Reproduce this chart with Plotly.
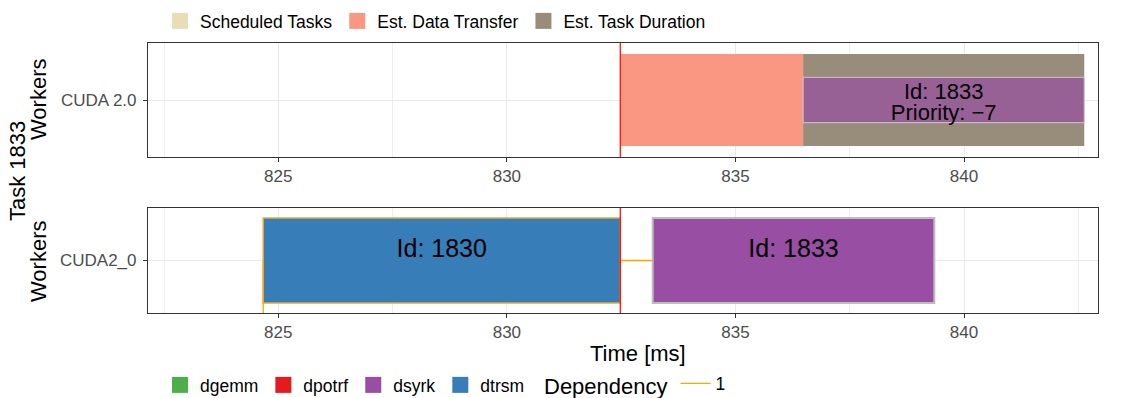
import plotly.graph_objects as go
from plotly.subplots import make_subplots

# ---------------- data ----------------
time_now = 832.48

# executed tasks (bottom panel)
task_ids = [1830, 1833]
task_types = ["dtrsm", "dsyrk"]
task_start = [824.67, 833.19]
task_end = [832.48, 839.35]
worker_bottom = "CUDA2_0"

# estimation for task 1833 (top panel)
worker_top = "CUDA 2.0"
est_task_id = 1833
est_task_type = "dsyrk"
est_priority = -7
est_transfer_start = 832.48
est_transfer_end = 836.48
est_task_end = 842.63

# dependencies (bottom panel): x pairs, y pairs (0 = shown worker, -1 = worker below)
dep_x = [[824.67, 824.67], [832.48, 833.19]]
dep_y = [[-1.0, 0.0], [0.0, 0.0]]
dep_label = "1"

type_names = ["dgemm", "dpotrf", "dsyrk", "dtrsm"]
type_colors = ["#4daf4a", "#e41a1c", "#984ea3", "#377eb8"]
est_names = ["Scheduled Tasks", "Est. Data Transfer", "Est. Task Duration"]
est_colors = ["#e8ddb4", "#f99783", "#988c7a"]

x_ticks = [825, 830, 835, 840]
x_range = [822.15, 842.93]

# ---------------- figure ----------------
FONT = "Liberation Sans, Arial, sans-serif"
color_of = dict(zip(type_names, type_colors))
dep_color = "#ffa500"

fig = make_subplots(rows=2, cols=1, row_heights=[114, 105], vertical_spacing=51 / 270)

# top panel
fig.add_trace(go.Bar(orientation="h", y=[0], base=[est_transfer_start],
                     x=[est_transfer_end - est_transfer_start], width=0.968,
                     marker=dict(color=est_colors[1], line=dict(width=0)),
                     showlegend=False, hoverinfo="skip"), row=1, col=1)
fig.add_trace(go.Bar(orientation="h", y=[0], base=[est_transfer_end],
                     x=[est_task_end - est_transfer_end], width=0.968,
                     marker=dict(color=est_colors[2], line=dict(width=0)),
                     showlegend=False, hoverinfo="skip"), row=1, col=1)
fig.add_trace(go.Bar(orientation="h", y=[0], base=[est_transfer_end],
                     x=[est_task_end - est_transfer_end], width=0.477,
                     marker=dict(color="rgba(152,78,163,0.7)",
                                 line=dict(width=1, color="rgba(215,205,220,0.9)")),
                     showlegend=False, hoverinfo="skip"), row=1, col=1)
mid_top = (est_transfer_end + est_task_end) / 2
fig.add_trace(go.Scatter(x=[mid_top, mid_top], y=[0.07, -0.15], mode="text",
                         text=[f"Id: {est_task_id}", f"Priority: {est_priority}".replace("-", "\u2212")],
                         textfont=dict(size=22, color="black", family=FONT),
                         showlegend=False, hoverinfo="skip", cliponaxis=False), row=1, col=1)

# bottom panel
outline_colors = ["#eaa835", "#bdbdbd"]
outline_widths = [1.5, 2]
for i in range(len(task_ids)):
    fig.add_trace(go.Bar(orientation="h", y=[0], base=[task_start[i]],
                         x=[task_end[i] - task_start[i]], width=0.971,
                         marker=dict(color=color_of[task_types[i]],
                                     line=dict(width=outline_widths[i], color=outline_colors[i])),
                         showlegend=False, hoverinfo="skip"), row=2, col=1)
mids = [(s + e) / 2 for s, e in zip(task_start, task_end)]
fig.add_trace(go.Scatter(x=mids, y=[0.11] * len(mids), mode="text",
                         text=[f"Id: {t}" for t in task_ids],
                         textfont=dict(size=25, color="black", family=FONT),
                         showlegend=False, hoverinfo="skip", cliponaxis=False), row=2, col=1)
for k in range(len(dep_x)):
    fig.add_trace(go.Scatter(x=dep_x[k], y=dep_y[k], mode="lines",
                             line=dict(color=dep_color, width=1.3),
                             name=dep_label, legend="legend3", legendgroup="dep",
                             showlegend=(k == 1), hoverinfo="skip"), row=2, col=1)

# legend entries
for n, c in zip(est_names, est_colors):
    fig.add_trace(go.Scatter(x=[None], y=[None], mode="markers", name=n,
                             marker=dict(symbol="square", size=18, color=c, line=dict(width=0)),
                             legend="legend"), row=1, col=1)
for n, c in zip(type_names, type_colors):
    fig.add_trace(go.Scatter(x=[None], y=[None], mode="markers", name=n,
                             marker=dict(symbol="square", size=18, color=c, line=dict(width=0)),
                             legend="legend2"), row=2, col=1)

# "now" line
for r in (1, 2):
    fig.add_vline(x=time_now, line=dict(color="#ff0000", width=1.2), row=r, col=1)

xaxis_style = dict(range=x_range, tickmode="array", tickvals=x_ticks,
                   ticktext=[str(v) for v in x_ticks],
                   showline=True, mirror=True, linecolor="#333333", linewidth=1.1,
                   ticks="outside", ticklen=4, tickcolor="#333333", tickwidth=1.1,
                   showgrid=True, gridcolor="#e8e8e8", gridwidth=1.3, zeroline=False,
                   minor=dict(tickmode="array", tickvals=[822.5, 827.5, 832.5, 837.5, 842.5],
                              showgrid=True, gridcolor="#eeeeee", gridwidth=0.9, ticks=""),
                   tickfont=dict(size=17, color="#4d4d4d", family=FONT))
yaxis_style = dict(range=[-0.6, 0.6], tickmode="array", tickvals=[0],
                   showline=True, mirror=True, linecolor="#333333", linewidth=1.1,
                   ticks="outside", ticklen=4, tickcolor="#333333", tickwidth=1.1,
                   showgrid=True, gridcolor="#e8e8e8", gridwidth=1.3, zeroline=False,
                   automargin=False, ticklabelstandoff=3,
                   tickfont=dict(size=17, color="#4d4d4d", family=FONT))

fig.update_xaxes(automargin=False, **xaxis_style)
fig.update_yaxes(**yaxis_style)
fig.update_yaxes(ticktext=[worker_top], row=1, col=1)
fig.update_yaxes(ticktext=[worker_bottom], row=2, col=1)

def px_x(p):
    return (p - 148) / 950

def px_y(p):
    return (313 - p) / 270

annots = [
    dict(text="Time [ms]", x=px_x(638), y=px_y(353), font=dict(size=22)),
    dict(text="Workers", x=px_x(38), y=px_y(99), textangle=-90, font=dict(size=22)),
    dict(text="Workers", x=px_x(38), y=px_y(261), textangle=-90, font=dict(size=22)),
    dict(text=f"Task {est_task_id}", x=px_x(17), y=px_y(171), textangle=-90, font=dict(size=22)),
]
for a in annots:
    a.update(xref="paper", yref="paper", showarrow=False, xanchor="center", yanchor="middle")
    a["font"].update(color="black", family=FONT)

leg_common = dict(orientation="h", xanchor="left", yanchor="middle",
                  bgcolor="rgba(0,0,0,0)", itemsizing="trace", traceorder="normal",
                  font=dict(size=17.5, color="black", family=FONT))

fig.update_layout(
    width=1127, height=398,
    margin=dict(l=148, r=29, t=43, b=85, autoexpand=False),
    paper_bgcolor="white", plot_bgcolor="white",
    barmode="overlay",
    font=dict(family=FONT),
    annotations=annots,
    legend=dict(x=px_x(160), y=px_y(21), **leg_common),
    legend2=dict(x=px_x(160), y=px_y(385), **leg_common),
    legend3=dict(x=px_x(542), y=px_y(385),
                 title=dict(text="Dependency", side="left",
                            font=dict(size=22, color="black", family=FONT)),
                 **leg_common),
)

fig.write_html("out.html", config={"displayModeBar": False},
               post_script="document.body.style.margin='0';document.body.style.overflow='hidden';")
